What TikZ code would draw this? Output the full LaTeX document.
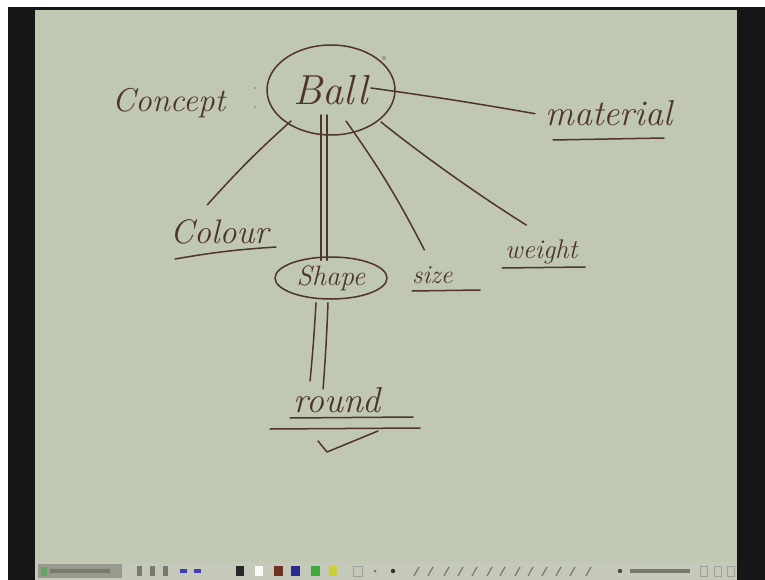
\documentclass[tikz,border=0pt]{standalone}
\usetikzlibrary{calc,shapes.geometric}
\definecolor{page}{RGB}{192,200,177}
\definecolor{ink}{RGB}{80,52,42}
\definecolor{frame}{RGB}{22,22,22}
\definecolor{barbg}{RGB}{197,201,186}
\definecolor{faint}{RGB}{150,156,140}
\definecolor{icon}{RGB}{120,122,110}
\definecolor{penbrown}{RGB}{110,50,35}
\definecolor{penblue}{RGB}{40,45,150}
\definecolor{pengreen}{RGB}{60,170,60}
\definecolor{penyellow}{RGB}{205,205,55}

\begin{document}
\begin{tikzpicture}[x=1pt,y=-1pt,
  hand/.style={draw=ink, line width=1.5pt, line cap=round, line join=round},
  word/.style={text=ink, font=\itshape\fontsize{#1}{#1}\selectfont, inner sep=0pt},
  word/.default=30,
  oval/.style={ellipse, hand, inner sep=0pt},
  swatch/.style={draw=icon!70, line width=0.6pt}]

% screen frame, page and toolbar
\fill[white] (0,0) rectangle (765,580);
\fill[frame] (8,7) rectangle (765,580);
\fill[page] (35,10) rectangle (737,562);
\fill[barbg] (35,562) rectangle (737,580);
\useasboundingbox (0,0) rectangle (765,580);

% toolbar
\fill[icon!60!barbg] (38,564) rectangle (122,578);
\fill[green!40!black!60] (41,567) rectangle (47,576);
\fill[icon] (50,569) rectangle (110,573);
\foreach \x in {137,150,163}{\fill[icon] (\x,566) rectangle ++(5,10);}
\fill[blue!50!icon] (180,569) rectangle ++(7,4);
\fill[blue!50!icon] (194,569) rectangle ++(7,4);
\fill[black!85] (236,566) rectangle ++(8,10);
\fill[white!90!barbg] (255,566) rectangle ++(8,10);
\fill[penbrown] (274,566) rectangle ++(9,10);
\fill[penblue] (291,566) rectangle ++(9,10);
\fill[pengreen] (311,566) rectangle ++(9,10);
\fill[penyellow] (329,566) rectangle ++(8,10);
\draw[swatch] (353,566) rectangle ++(9,10);
\fill[icon] (375,571) circle (1.5);
\fill[black!80] (393,571) circle (2.2);
\foreach \x in {414,428,444,458,472,487,500,515,528,542,556,570,586}{\draw[icon, line width=1.2pt] (\x,576) -- ++(5,-9);}
\fill[black!70] (620,571) circle (2.2);
\fill[icon] (630,569) rectangle (690,573);
\foreach \x in {700,714,727}{\draw[swatch] (\x,566) rectangle ++(7,10);}

% faint marks on the page
\fill[faint] (255,88) circle (1.4);
\fill[faint] (255,107) circle (1.4);
\fill[faint] (384,58) circle (2);

% words and circled words
\node[word=33, anchor=base west] (concept) at (112,112) {Concept};
\node[oval, minimum width=128, minimum height=90, word=42] (ball) at (331,90) {Ball};
\node[word=36, anchor=base west] (material) at (545,126) {material};
\node[word=34, anchor=base west] (colour) at (170,243) {Colour};
\node[oval, minimum width=112, minimum height=42, word=28] (shape) at (331,278) {Shape};
\node[word=26, anchor=base west] (size) at (412,283) {size};
\node[word=27, anchor=base west] (weight) at (505,258) {weight};
\node[word=36, anchor=base west] (round) at (293,412) {round};

% connectors
\draw[hand] ($(ball.center)+(40,-2)$) to[bend left=1] ($(material.west)+(-10,0)$);
\draw[hand] ($(ball.center)+(-40,31)$) to[bend right=3] ($(colour.north)+(-12,-14)$);
\draw[hand] ($(ball.center)+(-10,25)$) -- ($(shape.north)+(-10,4)$);
\draw[hand] ($(ball.center)+(-4,25)$) -- ($(shape.north)+(-4,4)$);
\draw[hand] ($(ball.center)+(15,31)$) to[bend left=4] ($(size.north)+(-8,-16)$);
\draw[hand] ($(ball.center)+(50,32)$) .. controls +(50,40) and +(-40,-25) .. ($(weight.north)+(-15,-14)$);
\draw[hand] ($(shape.south)+(-15,3)$) to[bend left=1] ($(round.north)+(-27,-6)$);
\draw[hand] ($(shape.south)+(-3,3)$) to[bend left=1] ($(round.north)+(-14,2)$);

% underlines and tick
\draw[hand] (553,140) -- (664,138);
\draw[hand] (175,259) to[bend left=3] (276,247);
\draw[hand] (412,291) -- (480,290);
\draw[hand] (502,268) -- (585,267);
\draw[hand] (290,418) -- (413,417);
\draw[hand] (270,429) -- (420,428);
\draw[hand] (318,441) -- (327,452) -- (378,431);
\end{tikzpicture}
\end{document}
